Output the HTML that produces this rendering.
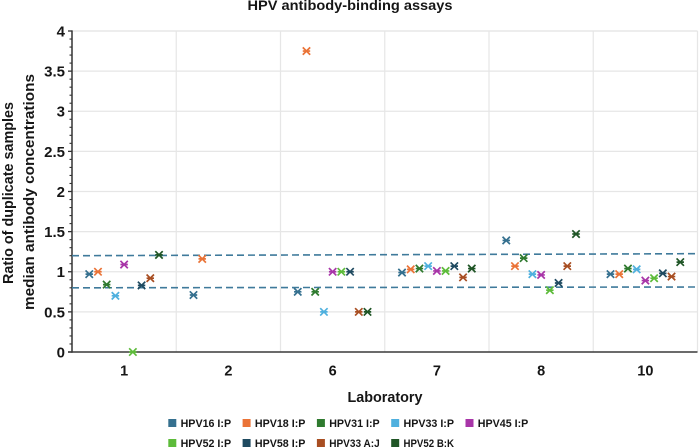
<!DOCTYPE html>
<html>
<head>
<meta charset="utf-8">
<style>
html,body{margin:0;padding:0;background:#fff;width:700px;height:448px;overflow:hidden}
svg{display:block}
text{font-family:"Liberation Sans",sans-serif;font-weight:bold;fill:#161616}
</style>
</head>
<body>
<svg id="chart" width="700" height="448" viewBox="0 0 700 448" xmlns="http://www.w3.org/2000/svg">
<text x="350" y="10" text-anchor="middle" font-size="14" textLength="205" lengthAdjust="spacingAndGlyphs">HPV antibody-binding assays</text>
<text transform="translate(13,193) rotate(-90)" text-anchor="middle" font-size="15" textLength="182" lengthAdjust="spacingAndGlyphs">Ratio of duplicate samples</text>
<text transform="translate(34,192) rotate(-90)" text-anchor="middle" font-size="15" textLength="236" lengthAdjust="spacingAndGlyphs">median antibody concentrations</text>
<text x="385" y="402" text-anchor="middle" font-size="15" textLength="75" lengthAdjust="spacingAndGlyphs">Laboratory</text>
<g id="layer-grid"></g>
<g id="layer-axes"></g>
<g id="layer-limits"></g>
<g id="layer-marks"></g>
<g id="layer-legend"></g>
</svg>
<script>
const categories = ['1', '2', '6', '7', '8', '10'];
const seriesNames = ['HPV16 I:P', 'HPV18 I:P', 'HPV31 I:P', 'HPV33 I:P', 'HPV45 I:P', 'HPV52 I:P', 'HPV58 I:P', 'HPV33 A:J', 'HPV52 B:K'];
const seriesColors = ['#35708f', '#ea7337', '#2f7a2f', '#4fb0de', '#a835a8', '#5dbb3a', '#1f4a60', '#a84e22', '#1f5526'];
const hpv16 = [0.97, 0.71, 0.75, 0.99, 1.39, 0.97];
const hpv18 = [1.00, 1.16, 3.75, 1.03, 1.07, 0.97];
const hpv31 = [0.84, null, 0.75, 1.04, 1.17, 1.04];
const hpv33 = [0.70, null, 0.50, 1.07, 0.97, 1.03];
const hpv45 = [1.09, null, 1.00, 1.01, 0.96, 0.89];
const hpv52 = [0.00, null, 1.00, 1.01, 0.77, 0.92];
const hpv58 = [0.83, null, 1.00, 1.07, 0.86, 0.98];
const hpv33aj = [0.92, null, 0.50, 0.93, 1.07, 0.94];
const hpv52bk = [1.21, null, 0.50, 1.04, 1.47, 1.12];
const allSeries = [hpv16, hpv18, hpv31, hpv33, hpv45, hpv52, hpv58, hpv33aj, hpv52bk];
const yTicks = [0, 0.5, 1, 1.5, 2, 2.5, 3, 3.5, 4];
const yTickLabels = ['0', '0.5', '1', '1.5', '2', '2.5', '3', '3.5', '4'];
const yMinorTicks = [0.1, 0.2, 0.3, 0.4, 0.6, 0.7, 0.8, 0.9, 1.1, 1.2, 1.3, 1.4, 1.6, 1.7, 1.8, 1.9, 2.1, 2.2, 2.3, 2.4, 2.6, 2.7, 2.8, 2.9, 3.1, 3.2, 3.3, 3.4, 3.6, 3.7, 3.8, 3.9];
const upperLimit = [1.20, 1.225];
const lowerLimit = [0.80, 0.81];

const NS = 'http://www.w3.org/2000/svg';
const plotLeft = 72, plotRight = 697.5, plotTop = 31, plotBottom = 352;
const yScale = v => plotBottom - (v / 4) * (plotBottom - plotTop);
const bandWidth = (plotRight - plotLeft) / categories.length;
const xBand = i => plotLeft + bandWidth * i;
const xScale = (c, s) => xBand(c) + bandWidth / 2 + (s - (allSeries.length - 1) / 2) * 8.72;

function make(tag, attrs, parent, text) {
  const el = document.createElementNS(NS, tag);
  for (const k in attrs) el.setAttribute(k, attrs[k]);
  if (text !== undefined) el.textContent = text;
  parent.appendChild(el);
  return el;
}
const grid = document.getElementById('layer-grid');
const axes = document.getElementById('layer-axes');
const limits = document.getElementById('layer-limits');
const marks = document.getElementById('layer-marks');
const legend = document.getElementById('layer-legend');

yTicks.forEach((v, i) => {
  if (v !== 0) {
    const g = make('line', {x1: plotLeft, x2: plotRight, y1: yScale(v), y2: yScale(v), stroke: '#e6e6e6', 'stroke-width': 1.2}, grid);
    
    
  }
  const t = make('line', {x1: plotLeft - 4, x2: plotLeft, y1: yScale(v), y2: yScale(v), stroke: '#333', 'stroke-width': 1.3}, axes);
  
  
  const l = make('text', {x: 65, y: yScale(v) + 5.4, 'text-anchor': 'end', 'font-size': 15}, axes, yTickLabels[i]);
  
  
});
yMinorTicks.forEach(v => {
  const t = make('line', {x1: plotLeft - 2.5, x2: plotLeft, y1: yScale(v), y2: yScale(v), stroke: '#333', 'stroke-width': 1.1}, axes);
  
  
});
categories.forEach((c, i) => {
  const g = make('line', {x1: xBand(i + 1), x2: xBand(i + 1), y1: plotTop, y2: plotBottom, stroke: '#e6e6e6', 'stroke-width': 1.2}, grid);
  
  
  const l = make('text', {x: xBand(i) + bandWidth / 2, y: 375.5, 'text-anchor': 'middle', 'font-size': 14.5}, axes, c);
  
  
});
const topLine = make('line', {x1: plotLeft, x2: plotRight, y1: plotTop, y2: plotTop, stroke: '#e6e6e6', 'stroke-width': 1.2}, grid);



const yAxis = make('line', {x1: plotLeft, x2: plotLeft, y1: plotTop - 0.6, y2: plotBottom + 0.8, stroke: '#333', 'stroke-width': 1.5}, axes);


const xAxis = make('line', {x1: plotLeft - 4, x2: plotRight, y1: plotBottom, y2: plotBottom, stroke: '#3a3a3a', 'stroke-width': 1.6}, axes);



[upperLimit, lowerLimit].forEach(vals => {
  const d = make('line', {x1: plotLeft, x2: plotRight, y1: yScale(vals[0]), y2: yScale(vals[1]), stroke: '#3f7a9b', 'stroke-width': 1.6, 'stroke-dasharray': '7 4'}, limits);
  
  
});

allSeries.forEach((vals, s) => {
  vals.forEach((v, c) => {
    if (v === null) return;
    const x = xScale(c, s), y = yScale(v), r = 3.7;
    const d = `M${x - r} ${y - r}L${x + r} ${y + r}M${x - r} ${y + r}L${x + r} ${y - r}M${x - r} ${y}H${x + r}`;
    const m = make('path', {d: d, stroke: seriesColors[s], 'stroke-width': 1.7, fill: 'none'}, marks);
    
    
  });
});

seriesNames.forEach((n, i) => {
  const col = i % 5, row = Math.floor(i / 5);
  const x = 168.3 + col * 74.3, y = 423 + row * 20;
  const sw = make('rect', {x: x, y: y - 4, width: 8, height: 8, fill: seriesColors[i]}, legend);
  
  
  const t = make('text', {x: x + 12.3, y: y + 4, 'font-size': 10.8, textLength: 50.5, lengthAdjust: 'spacingAndGlyphs'}, legend, n);
  
  
});
</script>
</body>
</html>
